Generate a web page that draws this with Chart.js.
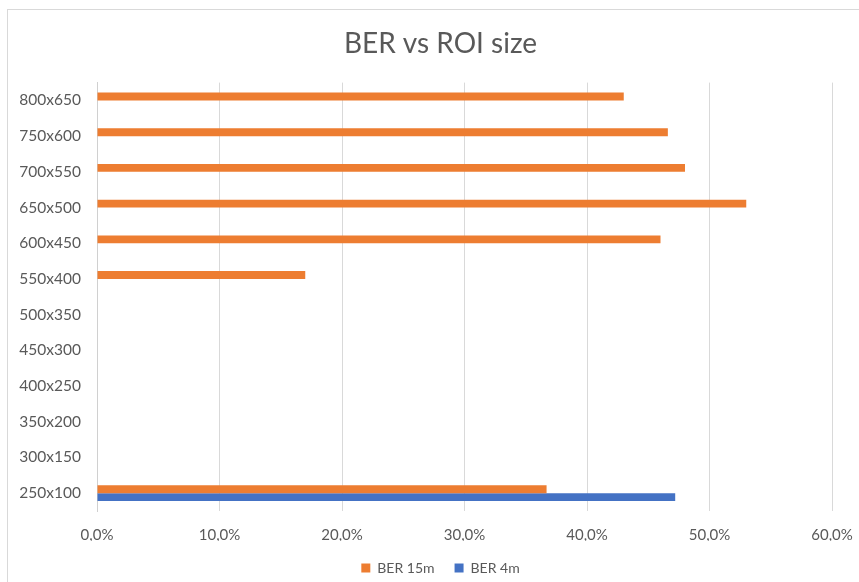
<!DOCTYPE html>
<html>
<head>
<meta charset="utf-8">
<script src="https://cdn.jsdelivr.net/npm/chart.js@4"></script>
<style>
  html, body { margin: 0; padding: 0; background: #fff; }
  #wrap { position: relative; width: 859px; height: 582px; overflow: hidden; }
  #frame { position: absolute; left: 7px; top: 9px; width: 900px; height: 700px;
           border-left: 1px solid #d9d9d9; border-top: 1px solid #d9d9d9; }
  canvas { position: absolute; left: 0; top: 0; }
</style>
</head>
<body>
<div id="wrap">
  <div id="frame"></div>
  <canvas id="myChart" width="859" height="582"></canvas>
</div>
<script>
// ROI sizes, smallest first (drawn bottom-up)
const roiSizes = ["250x100", "300x150", "350x200", "400x250", "450x300", "500x350",
                  "550x400", "600x450", "650x500", "700x550", "750x600", "800x650"];

// bit error rate in percent, null where nothing was measured
const ber15m = [36.7, null, null, null, null, null, 17.0, 46.0, 53.0, 48.0, 46.6, 43.0];
const ber4m = [47.2, null, null, null, null, null, null, null, null, null, null, null];

const xTicks = [0, 10, 20, 30, 40, 50, 60];

const textColor = "#595959";
const gridColor = "#d9d9d9";

// title and legend sit a bit right of the canvas centre
const shiftHeader = {
  id: "shiftHeader",
  afterLayout(chart) {
    for (const box of [chart.titleBlock, chart.legend]) {
      box.left += 11;
      box.right += 11;
    }
  },
};

const data = {
  labels: roiSizes,
  datasets: [
    {
      label: "BER 15m",
      data: ber15m,
      backgroundColor: "#ED7D31",
      borderWidth: 0,
    },
    {
      label: "BER 4m",
      data: ber4m,
      backgroundColor: "#4472C4",
      borderWidth: 0,
    },
  ],
};

const config = {
  type: "bar",
  data: data,
  plugins: [shiftHeader],
  options: {
    indexAxis: "y",
    responsive: false,
    animation: false,
    layout: { padding: { left: 0, right: 0, top: 0, bottom: -3 } },
    datasets: {
      bar: { categoryPercentage: 0.44, barPercentage: 1.0 },
    },
    plugins: {
      title: {
        display: true,
        text: "BER vs ROI size",
        color: textColor,
        font: { family: "Lato", size: 28, weight: "normal" },
        padding: { top: 27, bottom: 22 },
      },
      legend: {
        position: "bottom",
        labels: {
          color: textColor,
          font: { family: "Lato", size: 14 },
          boxWidth: 9,
          boxHeight: 9,
          padding: 20,
        },
      },
      tooltip: { enabled: false },
    },
    scales: {
      x: {
        min: xTicks[0],
        max: xTicks[xTicks.length - 1],
        afterBuildTicks: (scale) => {
          scale.ticks = xTicks.map((v) => ({ value: v }));
        },
        afterFit: (scale) => {
          scale.height = 30;
          scale.paddingLeft = 0;
          scale.paddingRight = 27;
        },
        grid: { color: gridColor, drawTicks: false },
        border: { display: false },
        ticks: {
          color: textColor,
          font: { family: "Lato", size: 15 },
          padding: 15,
          callback: (v) => v.toFixed(1).replace(".", ",") + "%",
        },
      },
      y: {
        reverse: true,
        afterFit: (scale) => {
          scale.width = 97;
        },
        grid: { display: false, drawTicks: false },
        border: { display: true, color: "#d0d0d0" },
        ticks: {
          color: textColor,
          font: { family: "Lato", size: 15.5 },
          padding: 16,
        },
      },
    },
  },
};

var myChart = new Chart(document.getElementById("myChart"), config);
</script>
</body>
</html>
